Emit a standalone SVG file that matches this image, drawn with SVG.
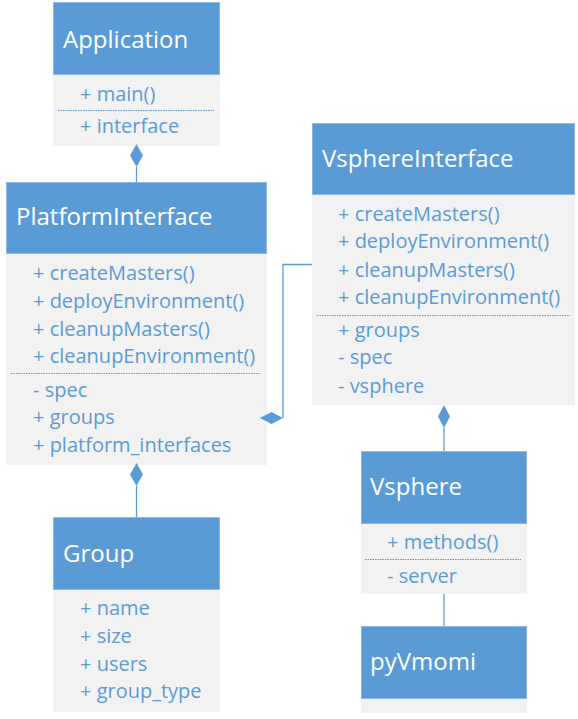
<svg xmlns="http://www.w3.org/2000/svg" width="578" height="719" viewBox="0 0 578 719">
<style>
.hd{fill:#5B9BD5;stroke:#8DB8E2;stroke-width:1}
.bd{fill:#F2F2F2}
.tt{font-family:"Open Sans","Noto Sans",sans-serif;font-size:24px;fill:#FFFFFF}
.it{font-family:"Open Sans","Noto Sans",sans-serif;font-size:20px;fill:#5B9BD5}
.sep{stroke:#5B9BD5;stroke-width:1;stroke-dasharray:1.5 1}
.cn{stroke:#5B9BD5;stroke-width:1.3;fill:none}
.dm{fill:#5B9BD5}
</style>
<rect width="578" height="719" fill="#FFFFFF"/>
<g id="Application">
<rect class="hd" x="53.5" y="2.5" width="166" height="72"/>
<rect class="bd" x="53" y="75" width="167" height="71"/>
<text class="tt" x="63" y="48">Application</text>
<text class="it" x="80" y="101">+ main()</text>
<line class="sep" x1="58" y1="110.5" x2="214" y2="110.5"/>
<text class="it" x="80" y="133">+ interface</text>
</g>
<g id="PlatformInterface">
<rect class="hd" x="6.5" y="182.5" width="260" height="71"/>
<rect class="bd" x="6" y="254" width="261" height="211"/>
<text class="tt" x="16" y="225">PlatformInterface</text>
<text class="it" x="33" y="280">+ createMasters()</text>
<text class="it" x="33" y="308">+ deployEnvironment()</text>
<text class="it" x="33" y="336">+ cleanupMasters()</text>
<text class="it" x="33" y="363">+ cleanupEnvironment()</text>
<line class="sep" x1="11" y1="373.5" x2="261" y2="373.5"/>
<text class="it" x="33" y="397">- spec</text>
<text class="it" x="33" y="424">+ groups</text>
<text class="it" x="33" y="452">+ platform_interfaces</text>
</g>
<g id="VsphereInterface">
<rect class="hd" x="312.5" y="123.5" width="262" height="71"/>
<rect class="bd" x="312" y="195" width="263" height="210"/>
<text class="tt" x="322" y="167">VsphereInterface</text>
<text class="it" x="338" y="221">+ createMasters()</text>
<text class="it" x="338" y="248">+ deployEnvironment()</text>
<text class="it" x="338" y="277">+ cleanupMasters()</text>
<text class="it" x="338" y="304">+ cleanupEnvironment()</text>
<line class="sep" x1="317" y1="315.5" x2="570" y2="315.5"/>
<text class="it" x="338" y="337">+ groups</text>
<text class="it" x="338" y="364">- spec</text>
<text class="it" x="338" y="393">- vsphere</text>
</g>
<g id="Group">
<rect class="hd" x="53.5" y="517.5" width="166" height="72"/>
<rect class="bd" x="53" y="590" width="167" height="122"/>
<text class="tt" x="63" y="562">Group</text>
<text class="it" x="80" y="615">+ name</text>
<text class="it" x="80" y="643">+ size</text>
<text class="it" x="80" y="671">+ users</text>
<text class="it" x="80" y="698">+ group_type</text>
</g>
<g id="Vsphere">
<rect class="hd" x="361.5" y="451.5" width="165" height="72"/>
<rect class="bd" x="361" y="524" width="166" height="70"/>
<text class="tt" x="370" y="495">Vsphere</text>
<text class="it" x="387" y="549">+ methods()</text>
<line class="sep" x1="365" y1="559.5" x2="521" y2="559.5"/>
<text class="it" x="387" y="583">- server</text>
</g>
<g id="pyVmomi">
<rect class="hd" x="361.5" y="626.5" width="165" height="72"/>
<rect class="bd" x="361" y="699" width="166" height="14"/>
<text class="tt" x="370" y="670">pyVmomi</text>
</g>
<g id="connectors">
<line class="cn" x1="136.5" y1="167" x2="136.5" y2="182"/>
<polygon class="dm" points="136.5,144 143,155.5 136.5,167 130,155.5"/>
<line class="cn" x1="136.5" y1="486" x2="136.5" y2="517"/>
<polygon class="dm" points="136.5,463 143,474.5 136.5,486 130,474.5"/>
<polyline class="cn" points="283,418 283,264.5 312,264.5"/>
<polygon class="dm" points="260,418 271.5,412 283,418 271.5,424"/>
<line class="cn" x1="444" y1="428" x2="444" y2="451"/>
<polygon class="dm" points="444,405 450,416.5 444,428 438,416.5"/>
<line class="cn" x1="444" y1="594" x2="444" y2="626" stroke="#9DC3E6"/>
</g>
</svg>
